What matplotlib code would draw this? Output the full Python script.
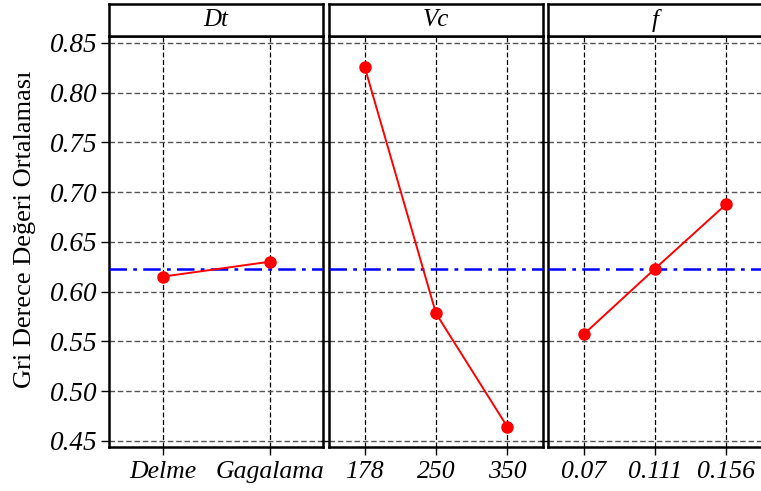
import matplotlib
matplotlib.use("Agg")
import matplotlib.pyplot as plt

plt.rcParams['font.family'] = ['Liberation Serif', 'DejaVu Serif']

# Main effects data
factors = ["Dt", "Vc", "f"]
dt_levels = ["Delme", "Gagalama"]
dt_means = [0.615, 0.630]
vc_levels = ["178", "250", "350"]
vc_means = [0.826, 0.578, 0.464]
f_levels = ["0.07", "0.111", "0.156"]
f_means = [0.557, 0.623, 0.688]
grand_mean = 0.623
yticks = [0.45, 0.50, 0.55, 0.60, 0.65, 0.70, 0.75, 0.80, 0.85]

levels = [dt_levels, vc_levels, f_levels]
means = [dt_means, vc_means, f_means]

W, H = 761, 491
fig = plt.figure(figsize=(W / 100, H / 100), dpi=100)

lefts = [109, 329, 548]
pw = 214
ax_bot, ax_top, strip_top = 447, 36, 4

for i, (name, lv, mv) in enumerate(zip(factors, levels, means)):
    x0 = lefts[i] / W
    ax = fig.add_axes([x0, 1 - ax_bot / H, pw / W, (ax_bot - ax_top) / H])
    st = fig.add_axes([x0, 1 - ax_top / H, pw / W, (ax_top - strip_top) / H])

    xs = list(range(len(lv)))
    ax.axhline(grand_mean, color="blue", lw=1.8, ls=(0, (7, 2.5, 1.5, 2.5)), zorder=3)
    ax.plot(xs, mv, color="red", lw=1.4, marker="o", ms=8, zorder=4)

    ax.set_xlim(-0.5, len(lv) - 0.5)
    ax.set_ylim(0.4437, 0.857)
    ax.set_xticks(xs)
    ax.set_xticklabels(lv, fontstyle="italic", fontsize=18.5)
    ax.set_yticks(yticks)
    if i == 0:
        ax.set_yticklabels([f"{v:.2f}" for v in yticks], fontstyle="italic", fontsize=19.5)
    else:
        ax.tick_params(axis="y", labelleft=False, length=0)
    ax.tick_params(axis="both", direction="out", length=6, width=1, color="black")
    ax.tick_params(axis="x", pad=4)
    ax.tick_params(axis="y", pad=2)

    ax.grid(axis="y", color="#555555", ls=(0, (4, 2)), lw=1)
    ax.grid(axis="x", color="black", ls=(0, (4, 2)), lw=0.9)
    ax.set_axisbelow(True)
    for s in ax.spines.values():
        s.set_linewidth(1.8)
    if i == 2:
        ax.spines["right"].set_visible(False)

    st.set_xticks([])
    st.set_yticks([])
    for s in st.spines.values():
        s.set_linewidth(1.8)
    if i == 2:
        st.spines["right"].set_visible(False)
    st.text(0.5, 0.5, name, ha="center", va="center", fontstyle="italic",
            fontsize=18, transform=st.transAxes)

fig.text(25 / W, 1 - 229 / H, "Gri Derece Değeri Ortalaması", rotation=90,
         ha="center", va="center", fontsize=19)

fig.savefig("out.png", dpi=100)
